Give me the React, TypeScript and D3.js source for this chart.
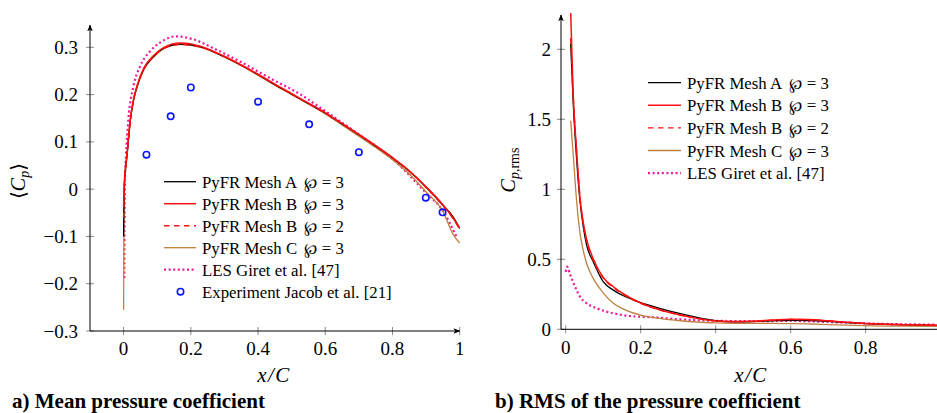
import React from "react";
import * as d3 from "d3";

// ---------- Data: mean pressure coefficient (left) ----------
const cpX = [0, 0.001, 0.003, 0.006, 0.01, 0.015, 0.02, 0.03, 0.04, 0.06, 0.09, 0.12, 0.17, 0.23, 0.3, 0.35, 0.4, 0.45, 0.5, 0.55, 0.6, 0.65, 0.7, 0.75, 0.8, 0.85, 0.9, 0.95, 0.98, 1.0];
const cpMeshA3 = [-0.1, -0.03, 0.02, 0.045, 0.07, 0.11, 0.146, 0.19, 0.217, 0.254, 0.281, 0.298, 0.307, 0.301, 0.28, 0.262, 0.242, 0.221, 0.201, 0.181, 0.161, 0.138, 0.115, 0.091, 0.066, 0.038, 0.004, -0.034, -0.058, -0.083];
const cpMeshB3 = [-0.035, -0.01, 0.025, 0.05, 0.075, 0.113, 0.148, 0.192, 0.219, 0.256, 0.283, 0.3, 0.309, 0.302, 0.281, 0.263, 0.243, 0.222, 0.202, 0.182, 0.162, 0.139, 0.116, 0.092, 0.067, 0.039, 0.005, -0.033, -0.061, -0.082];
const cpMeshB2 = [-0.06, -0.02, 0.022, 0.047, 0.072, 0.111, 0.146, 0.19, 0.217, 0.254, 0.281, 0.298, 0.306, 0.3, 0.28, 0.262, 0.242, 0.221, 0.201, 0.181, 0.161, 0.138, 0.115, 0.091, 0.066, 0.038, 0.003, -0.035, -0.062, -0.085];
const cpMeshC3 = [-0.255, -0.06, 0.015, 0.042, 0.068, 0.108, 0.144, 0.188, 0.215, 0.252, 0.28, 0.297, 0.306, 0.3, 0.279, 0.261, 0.241, 0.22, 0.2, 0.18, 0.159, 0.136, 0.112, 0.088, 0.062, 0.032, -0.006, -0.047, -0.095, -0.114];
const lesCpX = [0.002, 0.003, 0.004, 0.007, 0.014, 0.029, 0.0485, 0.078, 0.113, 0.153, 0.207, 0.267, 0.346, 0.445, 0.52, 0.6, 0.7, 0.8, 0.9, 0.95, 0.99];
const lesCp = [-0.188, -0.05, 0.02, 0.07, 0.146, 0.217, 0.259, 0.291, 0.312, 0.323, 0.317, 0.298, 0.27, 0.231, 0.203, 0.165, 0.116, 0.064, -0.008, -0.046, -0.1];
const expX = [0.068, 0.14, 0.2, 0.4, 0.552, 0.7, 0.899, 0.949];
const expCp = [0.073, 0.154, 0.215, 0.185, 0.137, 0.078, -0.018, -0.049];

// ---------- Data: RMS of pressure coefficient (right) ----------
const rmsX = [0.0133, 0.02, 0.029, 0.038, 0.047, 0.056, 0.074, 0.1, 0.127, 0.15, 0.2, 0.25, 0.3, 0.35, 0.4, 0.45, 0.5, 0.55, 0.6, 0.65, 0.7, 0.75, 0.8, 0.9, 1.0];
const rmsMeshA3 = [2.04, 1.62, 1.22, 0.92, 0.73, 0.6, 0.48, 0.34, 0.28, 0.245, 0.19, 0.15, 0.115, 0.085, 0.062, 0.053, 0.055, 0.06, 0.064, 0.062, 0.056, 0.048, 0.041, 0.033, 0.028];
const rmsMeshB3 = [2.26, 1.68, 1.28, 0.94, 0.76, 0.64, 0.5, 0.37, 0.304, 0.26, 0.188, 0.14, 0.105, 0.078, 0.06, 0.055, 0.058, 0.066, 0.072, 0.07, 0.061, 0.05, 0.042, 0.033, 0.028];
const rmsMeshB2 = [2.08, 1.66, 1.27, 0.95, 0.75, 0.63, 0.49, 0.365, 0.3, 0.255, 0.186, 0.14, 0.105, 0.078, 0.06, 0.055, 0.058, 0.065, 0.07, 0.068, 0.06, 0.05, 0.042, 0.033, 0.028];
const rmsMeshC3 = [1.49, 1.25, 0.92, 0.69, 0.56, 0.47, 0.36, 0.26, 0.186, 0.15, 0.102, 0.078, 0.063, 0.052, 0.046, 0.043, 0.042, 0.042, 0.041, 0.038, 0.034, 0.03, 0.026, 0.022, 0.02];
const lesRmsX = [0, 0.004, 0.012, 0.025, 0.038, 0.056, 0.083, 0.127, 0.17, 0.234, 0.305, 0.394, 0.5, 0.6, 0.7, 0.8, 0.9, 1.0];
const lesRms = [0.41, 0.447, 0.39, 0.304, 0.233, 0.186, 0.15, 0.114, 0.095, 0.086, 0.071, 0.061, 0.058, 0.06, 0.052, 0.042, 0.036, 0.033];

// ---------- Ticks & labels ----------
const cpXTicks = [0, 0.2, 0.4, 0.6, 0.8, 1];
const cpYTicks = [-0.3, -0.2, -0.1, 0, 0.1, 0.2, 0.3];
const rmsXTicks = [0, 0.2, 0.4, 0.6, 0.8];
const rmsYTicks = [0, 0.5, 1, 1.5, 2];
const leftLegend = ["PyFR Mesh A \u2118 = 3", "PyFR Mesh B \u2118 = 3", "PyFR Mesh B \u2118 = 2", "PyFR Mesh C \u2118 = 3", "LES Giret et al. [47]", "Experiment Jacob et al. [21]"];
const rightLegend = ["PyFR Mesh A \u2118 = 3", "PyFR Mesh B \u2118 = 3", "PyFR Mesh B \u2118 = 2", "PyFR Mesh C \u2118 = 3", "LES Giret et al. [47]"];

const FONT = "Liberation Serif, DejaVu Serif, serif";
const C_BLACK = "#000000";
const C_RED = "#ff1010";
const C_BROWN = "#bf8040";
const C_PINK = "#f0189a";
const C_BLUE = "#0a14ff";

type Style = { stroke: string; width: number; dash?: string };
const styles: Style[] = [
  { stroke: C_BLACK, width: 1.3 },
  { stroke: C_RED, width: 1.5 },
  { stroke: C_RED, width: 1.4, dash: "5.5 4.5" },
  { stroke: C_BROWN, width: 1.3 },
  { stroke: C_PINK, width: 2.2, dash: "2 2.6" },
];

function fmt(v: number): string {
  const s = d3.format("")(+v.toFixed(2));
  return s.replace("-", "\u2212");
}

function LegendText({ x, y, label, fs }: { x: number; y: number; label: string; fs: number }) {
  const idx = label.indexOf("\u2118");
  if (idx < 0) {
    return <text x={x} y={y} fontSize={fs}>{label}</text>;
  }
  const before = label.slice(0, idx).trimEnd();
  const after = label.slice(idx + 1).trim();
  const parts = after.split(" ");
  return (
    <text x={x} y={y} fontSize={fs}>
      <tspan>{before}</tspan>
      <tspan dx={7} fontFamily="DejaVu Serif" fontSize={fs * 0.95}>{"\u2118"}</tspan>
      <tspan dx={4.5}>{parts[0]}</tspan>
      <tspan dx={4.5}>{parts[1]}</tspan>
    </text>
  );
}

export default function App() {
  const xL = d3.scaleLinear().domain([-0.1, 1]).range([90, 459.7]);
  const yL = d3.scaleLinear().domain([-0.3, 0.3]).range([331, 47.3]);
  const xR = d3.scaleLinear().domain([0, 1]).range([565.7, 940.7]);
  const yR = d3.scaleLinear().domain([0, 2]).range([329.3, 49.3]);

  const mk = (xs: number[], ys: number[], sx: d3.ScaleLinear<number, number>, sy: d3.ScaleLinear<number, number>) =>
    d3.line<number>().x((_, i) => sx(xs[i])).y((d) => sy(d)).curve(d3.curveMonotoneX)(ys) || "";

  const leftSeries = [
    mk(cpX, cpMeshA3, xL, yL),
    mk(cpX, cpMeshB3, xL, yL),
    mk(cpX, cpMeshB2, xL, yL),
    mk(cpX, cpMeshC3, xL, yL),
    mk(lesCpX, lesCp, xL, yL),
  ];
  const rightSeries = [
    mk(rmsX, rmsMeshA3, xR, yR),
    mk(rmsX, rmsMeshB3, xR, yR),
    mk(rmsX, rmsMeshB2, xR, yR),
    mk(rmsX, rmsMeshC3, xR, yR),
    mk(lesRmsX, lesRms, xR, yR),
  ];
  const order = [4, 3, 0, 2, 1];

  const lAxisX0 = xL(-0.1);
  const lAxisY0 = yL(-0.3);
  const lTop = yL(0.347);
  const lRight = xL(1);
  const rAxisX0 = xR(-0.0125);
  const rAxisY0 = yR(0);
  const rTop = yR(2.245);

  const tickColor = "#8a8a8a";
  const TICK_FS = 19;
  const LEG_FS = 16.8;

  return (
    <svg width={937} height={413} style={{ position: "absolute", left: 0, top: 0, display: "block", background: "#fff", fontFamily: FONT }}>
      <defs>
        <marker id="arr" viewBox="0 0 10 10" refX="9" refY="5" markerWidth="7" markerHeight="7" orient="auto" markerUnits="userSpaceOnUse">
          <path d="M0,1 L10,5 L0,9 L2.5,5 Z" fill="#000" />
        </marker>
      </defs>

      {/* ---------------- LEFT CHART ---------------- */}
      <g>
        {order.map((k) => (
          <path key={"l" + k} d={leftSeries[k]} fill="none" stroke={styles[k].stroke} strokeWidth={styles[k].width} strokeDasharray={styles[k].dash} />
        ))}
        {expX.map((x, i) => (
          <circle key={"e" + i} cx={xL(x)} cy={yL(expCp[i])} r={3.2} fill="none" stroke={C_BLUE} strokeWidth={1.6} />
        ))}
        {cpXTicks.map((t) => (
          <g key={"lx" + t}>
            <line x1={xL(t)} x2={xL(t)} y1={lAxisY0 - 4} y2={lAxisY0 + 4} stroke={tickColor} strokeWidth={1} />
            <text x={xL(t)} y={355} textAnchor="middle" fontSize={TICK_FS}>{fmt(t)}</text>
          </g>
        ))}
        {cpYTicks.map((t) => (
          <g key={"ly" + t}>
            <line x1={lAxisX0 - 4} x2={lAxisX0 + 4} y1={yL(t)} y2={yL(t)} stroke={tickColor} strokeWidth={1} />
            <text x={78} y={yL(t) + 6.5} textAnchor="end" fontSize={TICK_FS}>{fmt(t)}</text>
          </g>
        ))}
        <line x1={lAxisX0} x2={lAxisX0} y1={lAxisY0} y2={lTop} stroke="#000" strokeWidth={1} markerEnd="url(#arr)" />
        <line x1={lAxisX0} x2={lRight} y1={lAxisY0} y2={lAxisY0} stroke="#000" strokeWidth={1} markerEnd="url(#arr)" />
        <text x={274} y={382} textAnchor="middle" fontSize={21} fontStyle="italic" letterSpacing={1.5}>x/C</text>
        <text transform="translate(25,181) rotate(-90)" textAnchor="middle" fontSize={20}>
          <tspan>{"\u27E8"}</tspan>
          <tspan fontStyle="italic">C</tspan>
          <tspan fontStyle="italic" fontSize={14} dy={4}>p</tspan>
          <tspan dy={-4}>{"\u27E9"}</tspan>
        </text>
        {leftLegend.map((lab, i) => {
          const y = 181.7 + i * 22;
          return (
            <g key={"ll" + i}>
              {i < 5 ? (
                <line x1={164} x2={196} y1={y} y2={y} stroke={styles[i].stroke} strokeWidth={styles[i].width} strokeDasharray={styles[i].dash} />
              ) : (
                <circle cx={180.5} cy={y} r={3.2} fill="none" stroke={C_BLUE} strokeWidth={1.6} />
              )}
              <LegendText x={202} y={y + 6} label={lab} fs={LEG_FS} />
            </g>
          );
        })}
        <text x={12} y={407.5} fontSize={21} fontWeight="bold">a) Mean pressure coefficient</text>
      </g>

      {/* ---------------- RIGHT CHART ---------------- */}
      <g>
        {order.map((k) => (
          <path key={"r" + k} d={rightSeries[k]} fill="none" stroke={styles[k].stroke} strokeWidth={styles[k].width} strokeDasharray={styles[k].dash} />
        ))}
        {rmsXTicks.map((t) => (
          <g key={"rx" + t}>
            <line x1={xR(t)} x2={xR(t)} y1={rAxisY0 - 4} y2={rAxisY0 + 4} stroke={tickColor} strokeWidth={1} />
            <text x={xR(t)} y={354} textAnchor="middle" fontSize={TICK_FS}>{fmt(t)}</text>
          </g>
        ))}
        {rmsYTicks.map((t) => (
          <g key={"ry" + t}>
            <line x1={rAxisX0 - 4} x2={rAxisX0 + 4} y1={yR(t)} y2={yR(t)} stroke={tickColor} strokeWidth={1} />
            <text x={551} y={yR(t) + 6.5} textAnchor="end" fontSize={TICK_FS}>{fmt(t)}</text>
          </g>
        ))}
        <line x1={rAxisX0} x2={rAxisX0} y1={rAxisY0} y2={rTop} stroke="#000" strokeWidth={1} markerEnd="url(#arr)" />
        <line x1={rAxisX0} x2={960} y1={rAxisY0} y2={rAxisY0} stroke="#000" strokeWidth={1} />
        <text x={751} y={382} textAnchor="middle" fontSize={21} fontStyle="italic" letterSpacing={1.5}>x/C</text>
        <text transform="translate(515,170) rotate(-90)" textAnchor="middle" fontSize={20}>
          <tspan fontStyle="italic">C</tspan>
          <tspan fontStyle="italic" fontSize={14} dy={4}>p</tspan>
          <tspan fontSize={14}>,rms</tspan>
        </text>
        {rightLegend.map((lab, i) => {
          const y = 82.7 + i * 22.6;
          return (
            <g key={"rl" + i}>
              <line x1={648} x2={681} y1={y} y2={y} stroke={styles[i].stroke} strokeWidth={styles[i].width} strokeDasharray={styles[i].dash} />
              <LegendText x={687} y={y + 6} label={lab} fs={LEG_FS} />
            </g>
          );
        })}
        <text x={495} y={407.5} fontSize={21} fontWeight="bold">b) RMS of the pressure coefficient</text>
      </g>
    </svg>
  );
}
